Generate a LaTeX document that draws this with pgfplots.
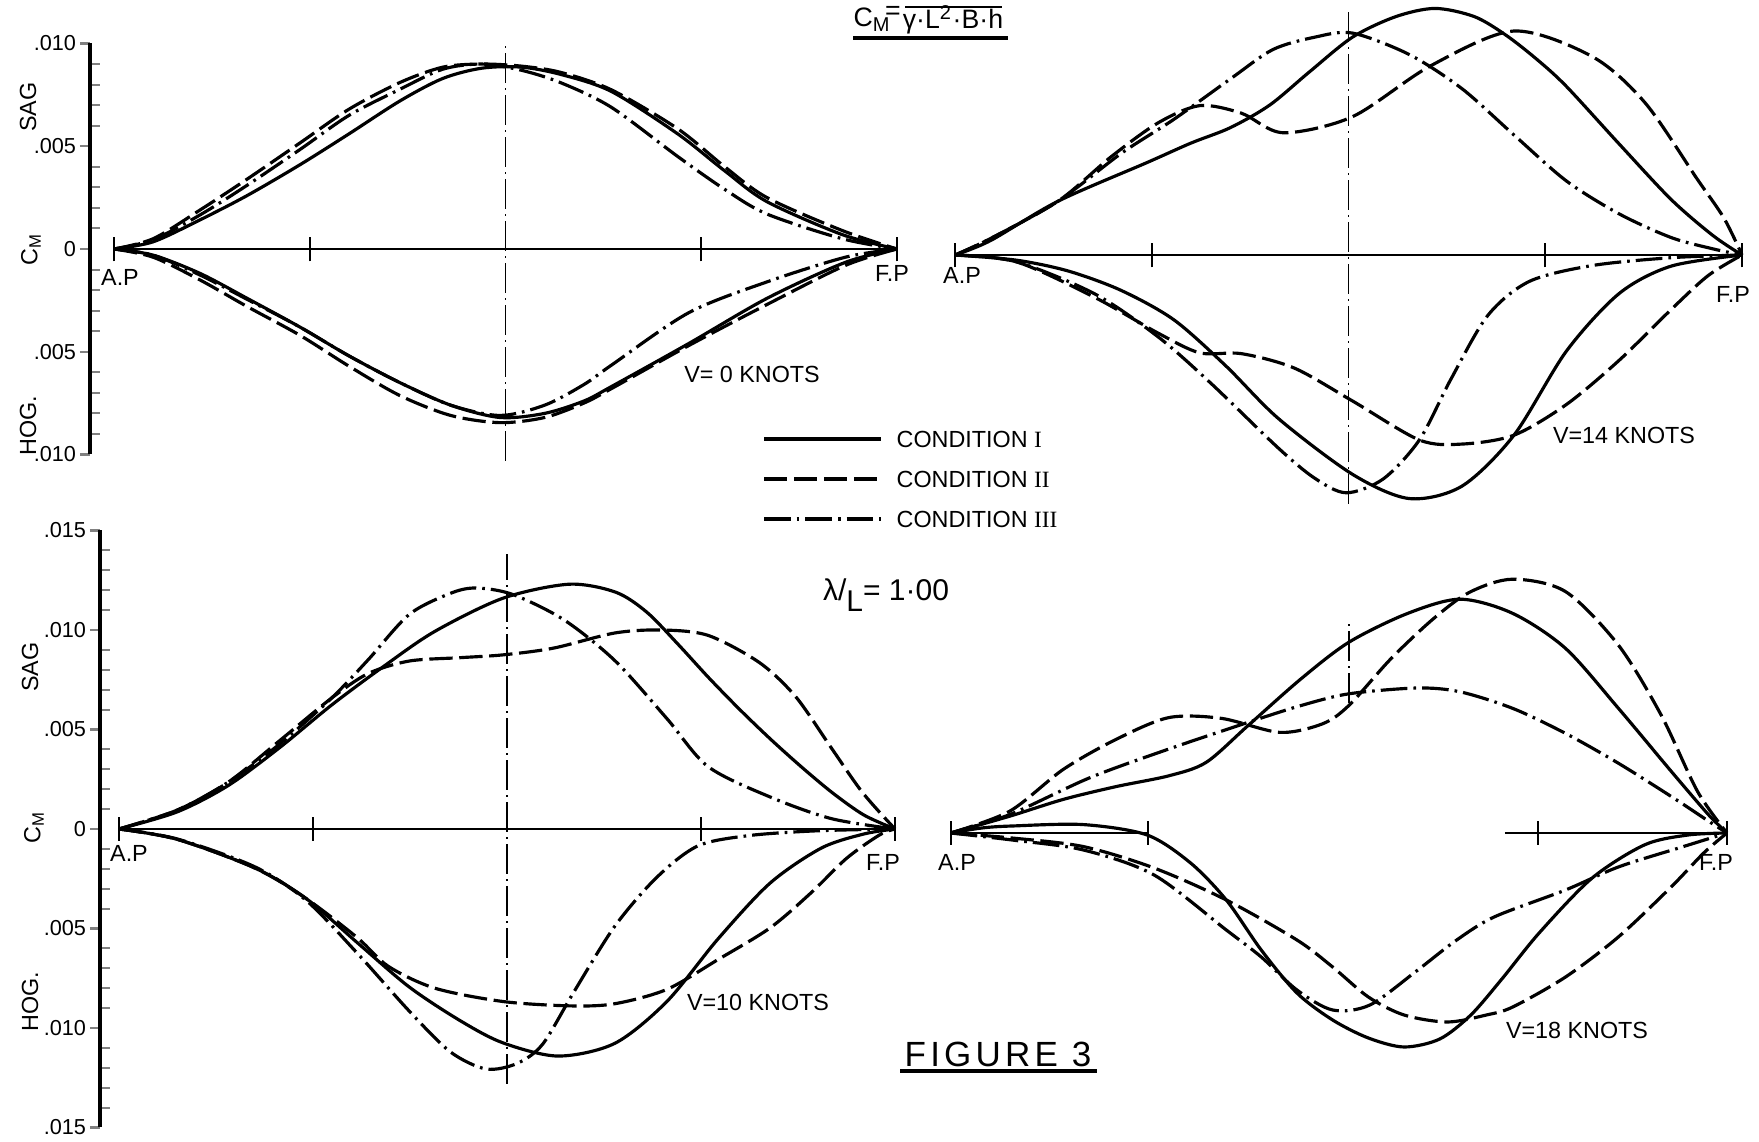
\documentclass[border=0pt]{standalone}
\usepackage{pgfplots}
\pgfplotsset{compat=1.18}
\usepackage{fontspec}
\setmainfont{Liberation Sans}
\newfontfamily\romfont{Liberation Serif}

% 1 px of the reference = 0.3pt
\pgfplotsset{
  panel/.style={scale only axis, clip=false, anchor=south west, hide x axis},
  rightpanel/.style={hide y axis},
  leftaxis/.style={axis y line*=left, y axis line style={line width=1.1pt},
    tick align=outside, major tick length=3pt, minor tick length=3pt,
    every major tick/.append style={line width=0.7pt},
    every minor tick/.append style={line width=0.6pt, xshift=3pt},
    minor y tick num=4, scaled y ticks=false,
    yticklabel style={font=\fontsize{6.5}{7}\selectfont, inner sep=1pt}},
  c1/.style={smooth, line width=0.95pt},
  c2/.style={smooth, line width=0.95pt, dash pattern=on 7pt off 2pt},
  c3/.style={smooth, line width=0.95pt, dash pattern=on 8pt off 1.8pt on 0.8pt off 1.8pt},
  zl/.style={line width=0.6pt},
  ml/.style={line width=0.5pt, dash pattern=on 9pt off 1.5pt on 0.6pt off 1.5pt},
}

\begin{document}
\begin{tikzpicture}
\useasboundingbox (0,0) rectangle (527.7pt,342.6pt);

% ---- V = 0 knots (top left)
\begin{axis}[panel, leftaxis, at={(27pt,206.25pt)}, width=242.1pt, height=123.3pt,
  xmin=-0.03065, xmax=1, ymin=-10, ymax=10,
  ytick={-10,-5,0,5,10}, yticklabels={.010,.005,0,.005,.010}]
\addplot[zl] coordinates {(0,0) (1,0)};
\addplot[zl] coordinates {(0,-0.6) (0,0.6)};
\addplot[zl] coordinates {(0.25,-0.6) (0.25,0.6)};
\addplot[zl] coordinates {(0.75,-0.6) (0.75,0.6)};
\addplot[zl] coordinates {(1,-0.6) (1,0.6)};
\addplot[ml] coordinates {(0.5,-10.3) (0.5,9.9)};
\addplot[c1] coordinates {(0,0) (0.05,0.35) (0.11,1.42) (0.17,2.6) (0.2375,4.1) (0.3,5.6) (0.365,7.2) (0.42,8.3) (0.47,8.8) (0.52,8.85) (0.57,8.5) (0.635,7.67) (0.72,5.6) (0.78,3.8) (0.834,2.3) (0.93,0.7) (1,0)};
\addplot[c2] coordinates {(0,0) (0.05,0.5) (0.11,1.9) (0.17,3.4) (0.2375,5.16) (0.3,6.8) (0.365,8.1) (0.42,8.85) (0.47,9.0) (0.52,8.9) (0.57,8.6) (0.635,7.75) (0.72,5.85) (0.78,4.0) (0.834,2.5) (0.93,0.9) (1,0)};
\addplot[c3] coordinates {(0,0) (0.05,0.45) (0.11,1.66) (0.17,3.1) (0.2375,4.84) (0.3,6.5) (0.365,7.77) (0.42,8.75) (0.47,9.0) (0.52,8.7) (0.57,8.1) (0.635,6.9) (0.72,4.5) (0.78,2.9) (0.834,1.7) (0.93,0.5) (1,0)};
\addplot[c1] coordinates {(0,0) (0.05,-0.3) (0.11,-1.19) (0.17,-2.4) (0.2375,-3.8) (0.3,-5.2) (0.365,-6.5) (0.43,-7.6) (0.493,-8.2) (0.55,-8.0) (0.6,-7.4) (0.635,-6.7) (0.734,-4.6) (0.834,-2.4) (0.934,-0.65) (1,0)};
\addplot[c2] coordinates {(0,0) (0.05,-0.4) (0.11,-1.51) (0.17,-2.8) (0.2375,-4.2) (0.3,-5.7) (0.365,-7.13) (0.43,-8.1) (0.493,-8.45) (0.55,-8.2) (0.6,-7.5) (0.635,-6.8) (0.734,-4.7) (0.834,-2.7) (0.934,-0.8) (1,0)};
\addplot[c3] coordinates {(0,0) (0.05,-0.3) (0.11,-1.27) (0.17,-2.45) (0.2375,-3.8) (0.3,-5.2) (0.365,-6.5) (0.43,-7.6) (0.493,-8.1) (0.55,-7.6) (0.6,-6.6) (0.635,-5.66) (0.734,-3.1) (0.834,-1.6) (0.934,-0.4) (1,0)};
\end{axis}

% ---- V = 14 knots (top right)
\begin{axis}[panel, rightpanel, at={(286.5pt,189.03pt)}, width=236.1pt, height=154.125pt,
  xmin=0, xmax=1, ymin=-12.5, ymax=12.5]
\addplot[zl] coordinates {(0,0) (1,0)};
\addplot[zl] coordinates {(0,-0.6) (0,0.6)};
\addplot[zl] coordinates {(0.25,-0.6) (0.25,0.6)};
\addplot[zl] coordinates {(0.75,-0.6) (0.75,0.6)};
\addplot[zl] coordinates {(1,-0.6) (1,0.6)};
\addplot[ml] coordinates {(0.5,-12.1) (0.5,11.9)};
\addplot[c1] coordinates {(0,0) (0.045,0.7) (0.131,2.62) (0.244,4.5) (0.30,5.45) (0.35,6.2) (0.40,7.3) (0.45,8.9) (0.505,10.6) (0.56,11.6) (0.61,12.0) (0.66,11.6) (0.70,10.7) (0.74,9.5) (0.777,8.2) (0.844,5.4) (0.91,2.7) (0.963,0.95) (1,0)};
\addplot[c2] coordinates {(0,0) (0.045,0.8) (0.131,2.62) (0.198,4.77) (0.258,6.43) (0.311,7.27) (0.364,6.9) (0.417,5.95) (0.505,6.73) (0.604,9.2) (0.71,10.9) (0.81,9.65) (0.877,7.4) (0.943,3.7) (0.977,1.8) (1,0)};
\addplot[c3] coordinates {(0,0) (0.045,0.8) (0.131,2.62) (0.211,4.94) (0.278,6.6) (0.351,8.6) (0.404,10.0) (0.457,10.6) (0.505,10.8) (0.577,9.76) (0.644,8.1) (0.71,5.85) (0.777,3.6) (0.844,2.0) (0.91,0.85) (0.963,0.3) (1,0)};
\addplot[c1] coordinates {(0,0) (0.078,-0.25) (0.144,-0.78) (0.211,-1.72) (0.278,-3.15) (0.344,-5.39) (0.411,-7.96) (0.505,-10.67) (0.577,-11.85) (0.644,-11.25) (0.71,-8.78) (0.777,-4.67) (0.844,-1.87) (0.91,-0.54) (1,0)};
\addplot[c2] coordinates {(0,0) (0.078,-0.33) (0.178,-2.07) (0.258,-3.8) (0.311,-4.76) (0.364,-4.8) (0.431,-5.5) (0.505,-7.1) (0.59,-9.0) (0.644,-9.2) (0.71,-8.77) (0.777,-7.27) (0.844,-5.12) (0.91,-2.65) (0.957,-1.0) (1,0)};
\addplot[c3] coordinates {(0,0) (0.078,-0.33) (0.178,-1.9) (0.258,-3.98) (0.324,-6.2) (0.411,-9.4) (0.457,-10.86) (0.497,-11.57) (0.544,-10.9) (0.59,-9.0) (0.63,-6.05) (0.677,-2.94) (0.73,-1.28) (0.81,-0.51) (0.91,-0.13) (1,0)};
\end{axis}

% ---- V = 10 knots (bottom left)
\begin{axis}[panel, leftaxis, at={(30pt,4.35pt)}, width=238.5pt, height=179.1pt,
  xmin=-0.0245, xmax=1, ymin=-15, ymax=15,
  ytick={-15,-10,-5,0,5,10,15}, yticklabels={.015,.010,.005,0,.005,.010,.015}]
\addplot[zl] coordinates {(0,0) (1,0)};
\addplot[zl] coordinates {(0,-0.6) (0,0.6)};
\addplot[zl] coordinates {(0.25,-0.6) (0.25,0.6)};
\addplot[zl] coordinates {(0.75,-0.6) (0.75,0.6)};
\addplot[zl] coordinates {(1,-0.6) (1,0.6)};
\addplot[ml] coordinates {(0.5,-12.8) (0.5,13.8)};
\addplot[c1] coordinates {(0,0) (0.075,0.86) (0.141,2.19) (0.208,4.12) (0.274,6.23) (0.341,8.17) (0.407,9.93) (0.495,11.6) (0.58,12.3) (0.64,11.9) (0.68,10.9) (0.72,9.3) (0.76,7.6) (0.80,6.0) (0.84,4.5) (0.88,3.1) (0.92,1.8) (0.96,0.7) (1,0)};
\addplot[c2] coordinates {(0,0) (0.075,0.95) (0.141,2.36) (0.208,4.47) (0.274,6.58) (0.321,7.81) (0.374,8.44) (0.44,8.61) (0.495,8.75) (0.56,9.09) (0.639,9.85) (0.699,10.0) (0.759,9.73) (0.825,8.37) (0.872,6.65) (0.918,4.07) (0.958,1.84) (1,0)};
\addplot[c3] coordinates {(0,0) (0.075,0.95) (0.141,2.36) (0.208,4.3) (0.274,6.58) (0.321,8.5) (0.374,10.78) (0.427,11.84) (0.46,12.11) (0.507,11.79) (0.573,10.52) (0.639,8.46) (0.706,5.55) (0.759,3.14) (0.839,1.61) (0.918,0.52) (1,0)};
\addplot[c1] coordinates {(0,0) (0.075,-0.52) (0.175,-1.96) (0.241,-3.49) (0.307,-5.71) (0.374,-7.94) (0.44,-9.64) (0.495,-10.75) (0.566,-11.41) (0.639,-10.77) (0.706,-8.67) (0.772,-5.52) (0.839,-2.72) (0.905,-0.96) (0.96,-0.25) (1,0)};
\addplot[c2] coordinates {(0,0) (0.075,-0.52) (0.175,-1.96) (0.241,-3.49) (0.307,-5.46) (0.347,-6.9) (0.407,-8.0) (0.495,-8.67) (0.583,-8.89) (0.639,-8.78) (0.706,-8.06) (0.772,-6.56) (0.839,-4.97) (0.892,-3.2) (0.938,-1.46) (0.98,-0.3) (1,0)};
\addplot[c3] coordinates {(0,0) (0.075,-0.5) (0.175,-1.9) (0.241,-3.58) (0.307,-6.24) (0.374,-9.15) (0.427,-11.2) (0.473,-12.06) (0.513,-11.78) (0.546,-10.81) (0.586,-8.2) (0.639,-4.88) (0.693,-2.43) (0.746,-0.85) (0.812,-0.33) (0.9,-0.09) (1,0)};
\end{axis}

% ---- V = 18 knots (bottom right)
\begin{axis}[panel, rightpanel, at={(285.21pt,17.7pt)}, width=232.89pt, height=156pt,
  xmin=0, xmax=1, ymin=-12.5, ymax=13.5]
\addplot[zl] coordinates {(0,0) (0.254,0)};
\addplot[zl] coordinates {(0.714,0) (1,0)};
\addplot[zl] coordinates {(0,-0.6) (0,0.6)};
\addplot[zl] coordinates {(0.254,-0.6) (0.254,0.6)};
\addplot[zl] coordinates {(0.757,-0.6) (0.757,0.6)};
\addplot[zl] coordinates {(1,-0.6) (1,0.6)};
\addplot[ml] coordinates {(0.513,6.5) (0.513,10.65)};
\addplot[c1] coordinates {(0,0) (0.076,0.84) (0.145,1.68) (0.213,2.32) (0.281,2.86) (0.329,3.53) (0.383,5.37) (0.451,7.7) (0.513,9.54) (0.588,10.97) (0.656,11.69) (0.724,10.98) (0.792,9.23) (0.86,6.24) (0.928,3.09) (0.976,0.92) (1,0)};
\addplot[c2] coordinates {(0,0) (0.076,1.09) (0.145,3.18) (0.213,4.68) (0.281,5.77) (0.349,5.73) (0.424,5.03) (0.479,5.46) (0.513,6.38) (0.567,8.71) (0.622,10.72) (0.669,12.05) (0.724,12.69) (0.792,12.07) (0.86,9.4) (0.915,5.91) (0.962,2.08) (1,0)};
\addplot[c3] coordinates {(0,0) (0.076,0.92) (0.179,2.76) (0.281,4.2) (0.383,5.53) (0.451,6.37) (0.513,6.96) (0.601,7.25) (0.656,7.06) (0.724,6.23) (0.792,4.98) (0.86,3.49) (0.928,1.83) (0.976,0.6) (1,0)};
\addplot[c1] coordinates {(0,0) (0.04,0.25) (0.079,0.35) (0.171,0.42) (0.253,-0.1) (0.309,-1.5) (0.355,-3.35) (0.4,-5.85) (0.446,-8.0) (0.492,-9.35) (0.538,-10.25) (0.584,-10.7) (0.63,-10.3) (0.67,-9.1) (0.71,-7.3) (0.758,-5.0) (0.826,-2.26) (0.894,-0.59) (0.95,-0.1) (1,0)};
\addplot[c2] coordinates {(0,0) (0.079,-0.25) (0.171,-0.68) (0.262,-1.75) (0.355,-3.35) (0.446,-5.35) (0.492,-6.7) (0.538,-8.2) (0.584,-9.1) (0.64,-9.45) (0.69,-9.1) (0.724,-8.7) (0.792,-7.2) (0.86,-5.2) (0.928,-2.7) (0.97,-1.0) (1,0)};
\addplot[c3] coordinates {(0,0) (0.079,-0.35) (0.171,-0.85) (0.262,-2.1) (0.355,-4.85) (0.4,-6.2) (0.446,-7.85) (0.492,-8.85) (0.54,-8.6) (0.6,-6.9) (0.65,-5.4) (0.70,-4.2) (0.792,-2.85) (0.86,-1.7) (0.942,-0.7) (1,0)};
\end{axis}

% ---- lettering, in reference pixels (y downwards)
\begin{scope}[x=0.3pt, y=-0.3pt, shift={(0pt,342.6pt)},
  every node/.style={font=\fontsize{7}{8}\selectfont, inner sep=0pt}]
% axis names
\node[rotate=90] at (28,107) {SAG};
\node[rotate=90] at (31,249) {C\textsubscript{M}};
\node[rotate=90] at (28,426) {HOG.};
\node[rotate=90] at (30,667) {SAG};
\node[rotate=90] at (34,827) {C\textsubscript{M}};
\node[rotate=90] at (30,1002) {HOG.};
% stations
\node at (120,277) {A.P};  \node at (892,273) {F.P};
\node at (962,275) {A.P};  \node at (1733,294) {F.P};
\node at (129,853) {A.P};  \node at (883,862) {F.P};
\node at (957,862) {A.P};  \node at (1716,862) {F.P};
% speeds
\node at (752,374) {V= 0 KNOTS};
\node at (1624,435) {V=14 KNOTS};
\node at (758,1002) {V=10 KNOTS};
\node at (1577,1030) {V=18 KNOTS};
% legend
\draw[line width=0.95pt] (764,439) -- (881,439);
\draw[line width=0.95pt, dash pattern=on 7pt off 2pt] (764,479) -- (881,479);
\draw[line width=0.95pt, dash pattern=on 8pt off 1.8pt on 0.8pt off 1.8pt] (764,519) -- (881,519);
\node[anchor=west] at (896,439) {CONDITION {\romfont I}};
\node[anchor=west] at (896,479) {CONDITION {\romfont II}};
\node[anchor=west] at (896,519) {CONDITION {\romfont III}};
% wave length
\node[font=\fontsize{9}{10}\selectfont] at (886,595) {λ/\raisebox{-0.7ex}{L}= 1·00};
% coefficient
\node[anchor=base west, font=\fontsize{8}{9}\selectfont] at (853,27) {C\textsubscript{M}};
\node[font=\fontsize{8}{9}\selectfont] at (893,13) {=};
\draw[line width=0.6pt] (905,7) -- (1002,7);
\node[anchor=base, font=\fontsize{8}{9}\selectfont] at (953,29) {γ·L\textsuperscript{2}·B·h};
\draw[line width=1pt] (853,38) -- (1008,38);
% caption
\node[font=\fontsize{10.5}{12}\addfontfeature{LetterSpace=12}\selectfont] at (998,1054) {FIGURE 3};
\draw[line width=1pt] (900,1071) -- (1097,1071);
\end{scope}
\end{tikzpicture}
\end{document}
